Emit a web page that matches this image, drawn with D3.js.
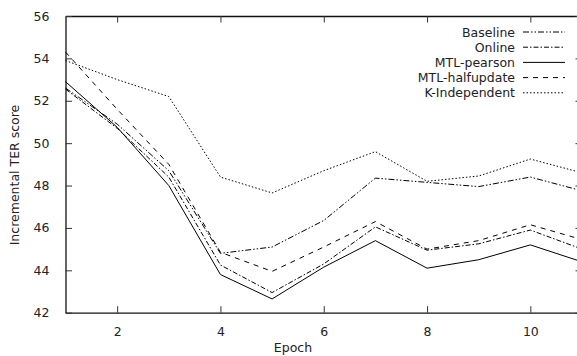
<!DOCTYPE html>
<html lang="en">
<head>
<meta charset="utf-8">
<title>Incremental TER score</title>
<script src="https://cdn.jsdelivr.net/npm/d3@7"></script>
<style>
  body { margin: 0; background: #fff; }
  text { font-family: "DejaVu Sans", sans-serif; font-size: 12.5px; fill: #222; }
</style>
</head>
<body>
<script>
// epochs and TER scores
var epochs = [1, 2, 3, 4, 5, 6, 7, 8, 9, 10, 11];
var baseline      = [52.6, 50.9, 48.7, 44.8, 45.1, 46.35, 48.35, 48.15, 47.95, 48.4, 47.75];
var online        = [52.55, 50.7, 48.4, 44.25, 42.95, 44.3, 46.05, 44.95, 45.25, 45.9, 45.0];
var mtlPearson    = [52.9, 50.75, 48.0, 43.8, 42.65, 44.15, 45.4, 44.1, 44.5, 45.2, 44.4];
var mtlHalfupdate = [54.3, 51.6, 49.0, 44.85, 43.95, 45.1, 46.3, 45.0, 45.4, 46.15, 45.45];
var kIndependent  = [53.9, 53.0, 52.2, 48.4, 47.65, 48.7, 49.6, 48.2, 48.45, 49.25, 48.6];

var seriesNames = ["Baseline", "Online", "MTL-pearson", "MTL-halfupdate", "K-Independent"];
var seriesValues = [baseline, online, mtlPearson, mtlHalfupdate, kIndependent];
var xTicks = [2, 4, 6, 8, 10];
var yTicks = [42, 44, 46, 48, 50, 52, 54, 56];

// line styles (gnuplot-ish dash patterns)
var dashes = ["6,2,1.5,2,1.5,2", "5,2,1.5,2", null, "5,5", "1.5,2"];

var W = 577, H = 356;
var svg = d3.select("body").append("svg")
    .attr("width", W)
    .attr("height", H);

// plot frame; right edge falls just outside the window like the original
var plotLeft = 65.5, plotRight = 582, plotTop = 16, plotBottom = 312.7;

var x = d3.scaleLinear().domain([1, 11]).range([plotLeft, plotRight]);
var y = d3.scaleLinear().domain([42, 56]).range([plotBottom, plotTop]);

// axes with inward ticks on all four sides
svg.append("g")
    .attr("transform", "translate(0," + plotBottom + ")")
    .call(d3.axisBottom(x).tickValues(xTicks).tickSizeInner(-6.5).tickSizeOuter(0).tickPadding(14));
svg.append("g")
    .attr("transform", "translate(0," + plotTop + ")")
    .call(d3.axisTop(x).tickValues(xTicks).tickSizeInner(-6.5).tickSizeOuter(0).tickFormat(""));
svg.append("g")
    .attr("transform", "translate(" + plotLeft + ",0)")
    .call(d3.axisLeft(y).tickValues(yTicks).tickSizeInner(-6.5).tickSizeOuter(0).tickPadding(16));
svg.append("g")
    .attr("transform", "translate(" + plotRight + ",0)")
    .call(d3.axisRight(y).tickValues(yTicks).tickSizeInner(-6.5).tickSizeOuter(0).tickFormat(""));

svg.selectAll(".domain").attr("stroke", "#111").attr("stroke-width", 1.3);
svg.selectAll(".tick line").attr("stroke", "#333");
svg.selectAll(".tick text")
    .style("font-family", "DejaVu Sans, sans-serif")
    .style("font-size", "12.5px")
    .attr("fill", "#222");

// axis titles
svg.append("text")
    .attr("x", 293)
    .attr("y", 352)
    .attr("text-anchor", "middle")
    .text("Epoch");
svg.append("text")
    .attr("transform", "translate(19,175) rotate(-90)")
    .attr("text-anchor", "middle")
    .text("Incremental TER score");

// the series
var line = d3.line()
    .x(function (d, i) { return x(epochs[i]); })
    .y(function (d) { return y(d); });

svg.selectAll("path.series")
    .data(seriesValues)
    .enter()
    .append("path")
    .attr("class", "series")
    .attr("d", line)
    .attr("fill", "none")
    .attr("stroke", "#000")
    .attr("stroke-width", 1)
    .attr("stroke-dasharray", function (d, i) { return dashes[i]; });

// legend, top right
var legend = svg.append("g");
var rows = legend.selectAll("g")
    .data(seriesNames)
    .enter()
    .append("g")
    .attr("transform", function (d, i) { return "translate(0," + (32 + i * 15.2) + ")"; });

rows.append("text")
    .attr("x", 515)
    .attr("y", 4.5)
    .attr("text-anchor", "end")
    .text(function (d) { return d; });

rows.append("line")
    .attr("x1", 523)
    .attr("x2", 565)
    .attr("y1", 0)
    .attr("y2", 0)
    .attr("stroke", "#000")
    .attr("stroke-width", 1)
    .attr("stroke-dasharray", function (d, i) { return dashes[i]; });
</script>
</body>
</html>
